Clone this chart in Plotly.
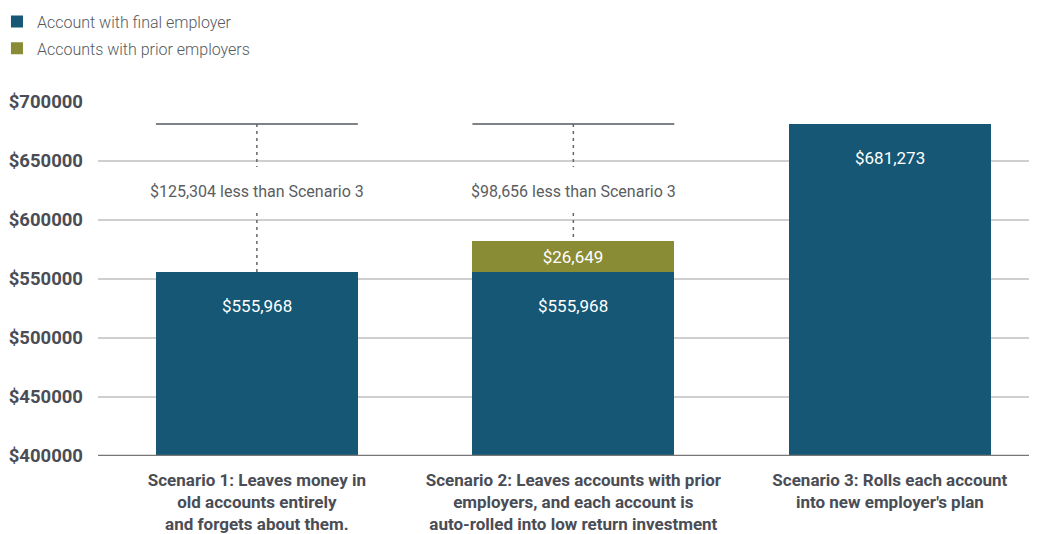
import plotly.graph_objects as go

categories = [
    "Scenario 1: Leaves money in<br>old accounts entirely<br>and forgets about them.",
    "Scenario 2: Leaves accounts with prior<br>employers, and each account is<br>auto-rolled into low return investment",
    "Scenario 3: Rolls each account<br>into new employer's plan",
]
final_employer = [555968, 555968, 681273]
prior_employers = [0, 26649, 0]
gap_labels = ["$125,304 less than Scenario 3", "$98,656 less than Scenario 3", ""]
y_ticks = [400000, 450000, 500000, 550000, 600000, 650000, 700000]
tick_labels = ["$" + str(v) for v in y_ticks]

TEAL = "#155774"
OLIVE = "#8a8b35"
xs = [0, 1, 2]
BW = 0.638

fig = go.Figure()
fig.add_trace(go.Bar(x=xs, y=final_employer, name="Account with final employer", legendgroup="a",
                     marker=dict(color=TEAL, line=dict(width=0)), width=BW, hoverinfo="skip"))
fig.add_trace(go.Bar(x=xs, y=prior_employers, name="Accounts with prior employers", legendgroup="b",
                     marker=dict(color=OLIVE, line=dict(width=0)), width=BW, hoverinfo="skip",
                     text=[f"${v:,}" if v else "" for v in prior_employers],
                     textposition="inside", insidetextanchor="middle",
                     textfont=dict(color="white", size=17, family="Roboto")))

fig.update_layout(barmode="stack")

target = max(final_employer[i] + prior_employers[i] for i in range(3))
shapes = []
annotations = []
for i in xs:
    annotations.append(dict(x=i, y=final_employer[i], yref="y", xref="x", text=f"${final_employer[i]:,}",
                            showarrow=False, yshift=-34, font=dict(color="white", size=17, family="Roboto")))
    if gap_labels[i]:
        top = final_employer[i] + prior_employers[i]
        shapes.append(dict(type="line", x0=i - BW / 2, x1=i + BW / 2, y0=target, y1=target,
                           xref="x", yref="y", line=dict(color="#555a60", width=1.5)))
        shapes.append(dict(type="line", x0=i, x1=i, y0=target, y1=645000, xref="x", yref="y",
                           line=dict(color="#666", width=1.5, dash="3px,4px")))
        shapes.append(dict(type="line", x0=i, x1=i, y0=606000, y1=top, xref="x", yref="y",
                           line=dict(color="#666", width=1.5, dash="3px,4px")))
        annotations.append(dict(x=i, y=624500, xref="x", yref="y", text=gap_labels[i], showarrow=False,
                                font=dict(color="#5a5d62", size=16, family="Roboto")))

fig.update_layout(
    width=1029, height=526,
    margin=dict(l=90, r=0, t=94, b=78, autoexpand=False),
    paper_bgcolor="white", plot_bgcolor="white",
    shapes=shapes, annotations=annotations,
    bargap=0,
    showlegend=True,
    legend=dict(xref="paper", yref="paper", x=-0.1076, y=1.275, xanchor="left", yanchor="top",
                font=dict(size=16, color="#555a60", family="Roboto", weight=300), traceorder="grouped",
                itemwidth=30, tracegroupgap=3, bgcolor="rgba(0,0,0,0)"),
    xaxis=dict(range=[-0.502, 2.465], tickvals=xs, ticktext=categories, showgrid=False,
               tickfont=dict(size=17, color="#4a4d55", family="Roboto", weight="bold"),
               tickangle=0, automargin=False, ticklabelstandoff=12,
               ticks="", zeroline=False, showline=False, fixedrange=True),
    yaxis=dict(range=[400000, 700000], tickvals=y_ticks, ticktext=tick_labels,
               showgrid=True, gridcolor="#cfcfcf", gridwidth=1.5, automargin=False,
               tickfont=dict(size=18.5, color="#4a4d55", family="Roboto", weight="bold"),
               ticks="", ticklabelstandoff=14, zeroline=False, showline=False, fixedrange=True),
)
fig.add_shape(type="line", xref="paper", yref="y", x0=0, x1=1, y0=400000, y1=400000,
              line=dict(color="#777", width=2.5), layer="above")

fig.write_html("out.html")
